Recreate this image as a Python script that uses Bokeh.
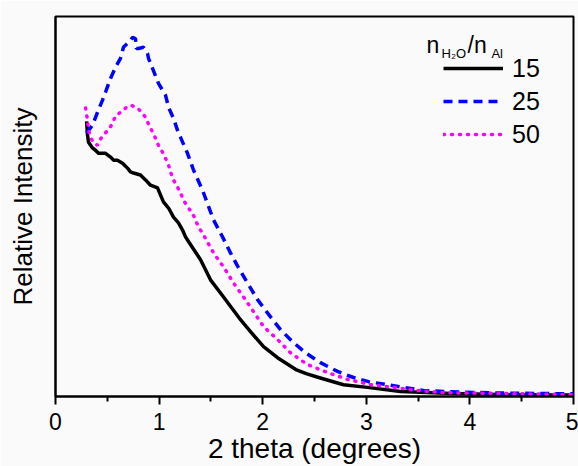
from bokeh.plotting import figure
from bokeh.models import Range1d, FixedTicker, Legend, LegendItem, Label
from bokeh.embed import file_html
from bokeh.resources import INLINE

# ---- data (2 theta in degrees, relative intensity in a.u.) ----
x15 = [0.300, 0.309, 0.319, 0.357, 0.386, 0.415, 0.483, 0.531, 0.560, 0.598, 0.647, 0.695, 0.724,
       0.753, 0.820, 0.869, 0.917, 0.985, 1.014, 1.042, 1.091, 1.139, 1.187, 1.226, 1.255, 1.274,
       1.400, 1.496, 1.622, 1.786, 1.882, 2.008, 2.143, 2.320, 2.420, 2.540, 2.780, 3.012, 3.330,
       3.649, 3.813, 4.295, 5.000]
y15 = [72.4, 68.8, 66.9, 65.4, 64.8, 64.0, 64.0, 63.0, 62.2, 62.2, 61.4, 60.1, 59.1,
       58.8, 58.3, 57.0, 55.6, 54.9, 53.0, 51.2, 49.6, 47.2, 45.7, 43.8, 42.0, 41.2,
       36.0, 30.7, 26.2, 20.2, 17.1, 13.1, 10.2, 7.1, 6.0, 5.0, 3.1, 2.4, 1.3,
       1.0, 0.8, 0.5, 0.4]

x25 = [0.299, 0.357, 0.405, 0.454, 0.483, 0.531, 0.579, 0.627, 0.656, 0.724, 0.743, 0.772, 0.780,
       0.801, 0.849, 0.888, 0.898, 0.936, 0.994, 1.062, 1.091, 1.139, 1.187, 1.207, 1.274, 1.332,
       1.419, 1.525, 1.612, 1.689, 1.766, 1.853, 1.950, 2.046, 2.172, 2.288, 2.413, 2.558, 2.722,
       2.876, 3.021, 3.205, 3.359, 3.552, 3.745, 4.295, 5.000]
y25 = [69.3, 71.4, 74.8, 78.0, 80.1, 83.7, 86.6, 89.0, 91.9, 93.7, 94.5, 94.2, 91.6,
       91.6, 91.9, 90.3, 89.0, 86.4, 82.4, 79.3, 76.1, 73.2, 69.3, 68.2, 64.0, 59.6,
       54.3, 46.5, 42.0, 37.8, 33.9, 29.9, 25.5, 22.0, 17.6, 14.4, 11.5, 8.9, 6.6,
       5.0, 3.9, 3.1, 2.4, 1.6, 1.3, 0.9, 0.7]

x50 = [0.290, 0.309, 0.319, 0.338, 0.367, 0.405, 0.434, 0.463, 0.512, 0.550, 0.579, 0.627, 0.647,
       0.695, 0.734, 0.792, 0.830, 0.869, 0.898, 0.936, 0.965, 0.994, 1.033, 1.062, 1.091, 1.110,
       1.139, 1.178, 1.207, 1.236, 1.274, 1.322, 1.351, 1.380, 1.419, 1.525, 1.622, 1.718, 1.853,
       2.008, 2.143, 2.268, 2.432, 2.625, 2.819, 3.041, 3.263, 3.494, 3.745, 4.295, 5.000]
y50 = [75.9, 72.7, 70.1, 68.2, 66.7, 66.1, 67.7, 69.0, 70.1, 71.9, 73.8, 74.8, 75.1,
       76.4, 76.6, 75.9, 74.8, 73.5, 71.7, 69.6, 68.0, 66.1, 64.3, 62.7, 60.9, 59.1,
       57.0, 55.1, 53.5, 51.7, 49.9, 48.3, 46.5, 44.6, 43.0, 37.8, 34.1, 29.9, 24.7,
       18.4, 15.0, 11.5, 8.4, 6.3, 4.5, 3.1, 2.4, 1.6, 1.0, 0.8, 0.5]

series_labels = ["15", "25", "50"]
x_ticks = [0, 1, 2, 3, 4, 5]
x_minor = [0.5, 1.5, 2.5, 3.5, 4.5]

FONT = "Liberation Sans"

p = figure(width=578, height=466, output_backend="svg", toolbar_location=None,
           x_range=Range1d(0, 5), y_range=Range1d(0, 100),
           min_border_left=55, min_border_right=5, min_border_top=16, min_border_bottom=69,
           background_fill_color="#fafafa", border_fill_color="#fafafa")

p.xgrid.visible = False
p.ygrid.visible = False
p.outline_line_color = "black"
p.outline_line_width = 2

xa = p.xaxis[0]
xa.ticker = FixedTicker(ticks=x_ticks, minor_ticks=x_minor)
xa.axis_line_width = 2
xa.major_tick_line_width = 2
xa.minor_tick_line_width = 2
xa.major_tick_out = 8
xa.major_tick_in = 0
xa.minor_tick_out = 5
xa.minor_tick_in = 0
xa.major_label_text_font = FONT
xa.major_label_text_font_size = "23px"
xa.major_label_text_color = "black"
xa.major_label_standoff = 8
xa.axis_label = "2 theta (degrees)"
xa.axis_label_text_font = FONT
xa.axis_label_text_font_size = "28px"
xa.axis_label_text_font_style = "normal"
xa.axis_label_text_color = "black"
xa.axis_label_standoff = 0

ya = p.yaxis[0]
ya.ticker = FixedTicker(ticks=[])
ya.axis_line_width = 2
ya.major_tick_out = 0
ya.major_tick_in = 0
ya.minor_tick_out = 0
ya.minor_tick_in = 0
ya.axis_label = "Relative Intensity"
ya.axis_label_text_font = FONT
ya.axis_label_text_font_size = "26px"
ya.axis_label_text_font_style = "normal"
ya.axis_label_text_color = "black"
ya.axis_label_standoff = 18

r15 = p.line(x15, y15, line_color="black", line_width=3.5, line_join="round")
r25 = p.line(x25, y25, line_color="#0000ff", line_width=3.5, line_dash="9 6")
r50 = p.line(x50, y50, line_color="#ff00ff", line_width=3.5, line_dash="1 7", line_cap="round")

legend = Legend(items=[LegendItem(label=series_labels[0], renderers=[r15]),
                       LegendItem(label=series_labels[1], renderers=[r25]),
                       LegendItem(label=series_labels[2], renderers=[r50])],
                location=(388, 247), orientation="vertical",
                label_text_font=FONT, label_text_font_size="25px", label_text_color="black",
                label_height=30, glyph_height=30, glyph_width=60, label_standoff=9,
                spacing=3, padding=0, margin=0,
                border_line_color=None, background_fill_alpha=0)
p.add_layout(legend)

# legend title n_{H2O}/n_{Al}
p.add_layout(Label(x=3.581, y=92.4, text="n", text_font=FONT, text_font_size="23px",
                   text_baseline="alphabetic", text_color="black"))
p.add_layout(Label(x=3.726, y=90.3, text="H₂O", text_font=FONT, text_font_size="13px",
                   text_baseline="alphabetic", text_color="black"))
p.add_layout(Label(x=3.977, y=92.4, text="/n", text_font=FONT, text_font_size="23px",
                   text_baseline="alphabetic", text_color="black"))
p.add_layout(Label(x=4.208, y=90.3, text="Al", text_font=FONT, text_font_size="13px",
                   text_baseline="alphabetic", text_color="black"))

open("out.html", "w").write(file_html(p, INLINE))
